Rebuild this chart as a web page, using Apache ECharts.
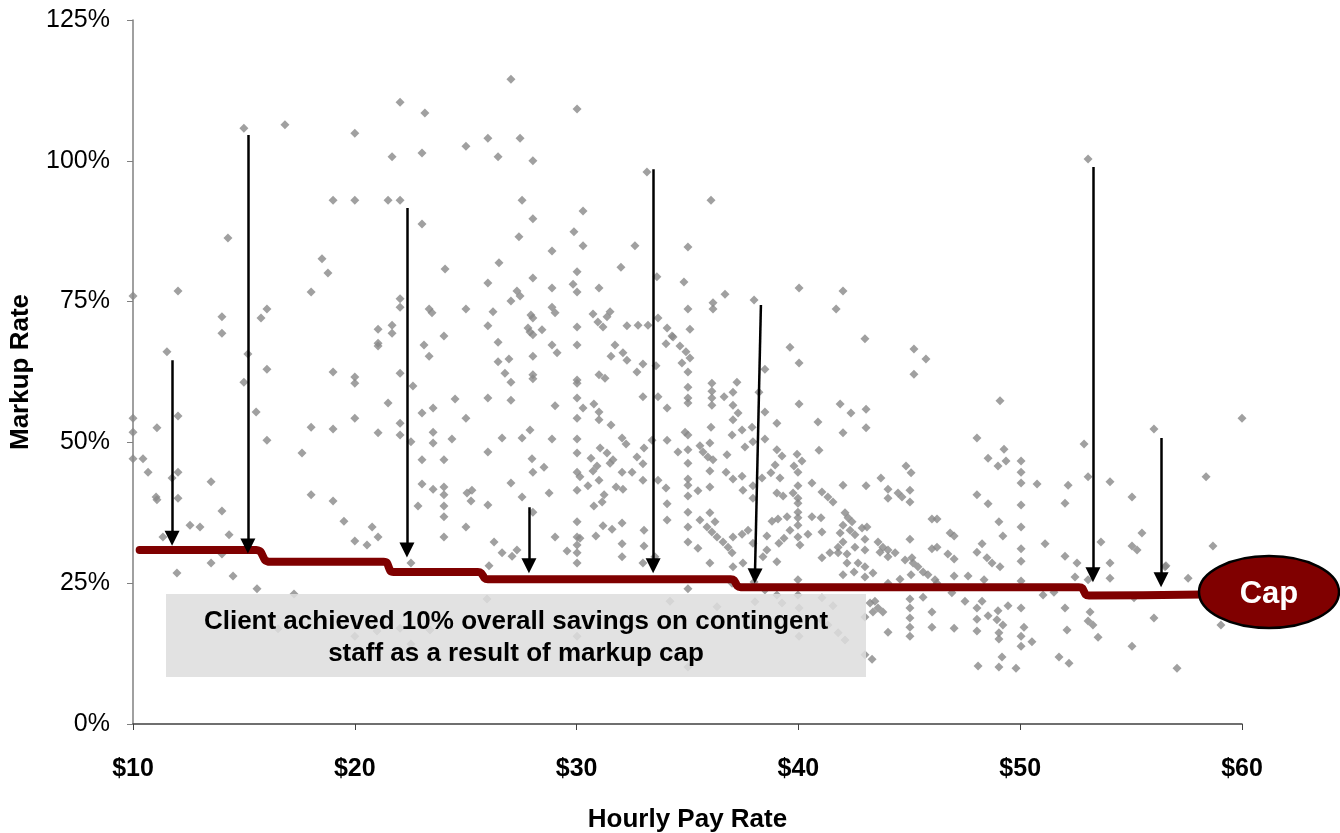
<!DOCTYPE html>
<html>
<head>
<meta charset="utf-8">
<title>Markup Rate vs Hourly Pay Rate</title>
<script src="https://cdn.jsdelivr.net/npm/echarts@6/dist/echarts.min.js"></script>
<style>
  html, body { margin: 0; padding: 0; background: #ffffff; }
  #chart { width: 1340px; height: 833px; }
</style>
</head>
<body>
<div id="chart"></div>
<script>
// Each observation: [hourly pay rate ($), markup rate (%)]
const markupPoints = [
  [22.04,110.4],[15.0,105.8],[16.85,106.4],[20.0,104.9],[21.68,100.7],[19.02,93.0],[20.0,93.0],[21.5,93.0],[22.04,93.0],
  [14.28,86.3],[18.52,82.6],[18.79,80.1],[10.0,76.0],[12.03,76.9],[18.03,76.7],[14.01,72.3],[14.01,69.4],[15.77,72.1],
  [16.04,73.7],[22.04,75.5],[22.04,74.0],[21.05,70.1],[21.68,70.8],[21.68,69.4],[21.05,67.6],[21.05,67.1],[11.53,66.1],
  [15.18,65.7],[16.04,63.0],[19.02,62.5],[20.0,61.6],[20.0,60.5],[22.04,62.3],[15.0,60.7],

  [27.04,114.5],[30.02,109.2],[23.16,108.5],[26.0,104.0],[27.45,104.0],[25.01,102.6],[23.03,101.4],[26.46,100.7],
  [28.03,100.0],[33.17,98.0],[27.54,93.0],[28.03,89.7],[23.03,88.8],[27.4,86.5],[29.88,87.4],[30.29,91.1],[30.29,84.9],
  [28.89,84.0],[32.63,84.9],[26.5,81.9],[24.07,80.8],[32.0,81.1],[30.02,80.3],[33.62,79.4],[26.0,78.3],[28.03,79.2],
  [28.89,77.4],[29.84,78.1],[30.02,76.7],[31.01,77.4],[27.31,76.9],[27.45,76.0],[27.04,75.1],[23.35,73.7],[23.48,73.0],
  [25.01,73.7],[26.23,73.2],[28.89,74.0],[29.03,73.0],[27.94,72.6],[28.03,72.1],[30.74,72.8],[31.51,73.2],[31.37,72.3],
  [30.96,71.4],[31.19,70.5],[32.27,70.7],[32.77,70.8],[33.22,70.8],[33.67,72.1],[34.08,70.3],[34.3,68.9],[34.03,67.5],
  [26.0,70.7],[24.02,68.9],[26.46,67.8],[27.81,70.3],[27.9,69.6],[28.44,70.0],[28.03,69.1],[30.02,70.5],[23.12,67.3],
  [23.35,65.3],[28.89,67.3],[29.12,65.9],[30.02,67.3],[28.03,65.3],[26.46,64.3],[26.95,64.8],[26.77,62.3],[27.04,60.7],
  [28.03,62.0],[28.03,61.3],[30.02,61.1],[30.02,60.5],[31.01,62.0],[31.28,61.4],[31.73,67.3],[31.55,65.3],[32.09,65.9],
  [32.27,64.6],[32.72,62.5],[32.99,63.9],[33.58,63.6],[22.62,60.0],[24.52,57.7],[26.0,57.9],[27.04,57.5],[30.02,57.9],
  [32.99,58.1],[33.67,58.1],

  [36.06,93.0],[35.02,84.7],[34.84,78.5],[36.15,74.8],[36.15,73.7],[36.69,76.3],[38.0,75.3],[35.02,73.7],[40.03,77.4],
  [42.01,76.9],[41.7,73.7],[35.11,70.1],[34.35,68.7],[34.66,67.1],[34.93,66.1],[35.11,65.0],[34.75,64.1],[35.02,62.5],
  [35.02,59.8],[35.02,57.9],[36.1,60.5],[36.1,59.1],[36.1,57.9],[36.65,58.1],[37.05,58.9],[37.23,60.7],[38.22,58.9],
  [38.49,63.0],[39.62,66.9],[40.03,64.1],[43.0,68.4],[45.21,66.6],[45.75,64.8],[45.21,62.1],[53.06,100.3],

  [10.0,54.3],[10.0,51.8],[11.08,52.6],[12.03,54.7],[10.0,47.1],[10.45,47.1],[10.68,44.7],[11.76,43.7],[12.03,44.7],
  [11.04,40.3],[11.08,39.8],[12.03,40.1],[13.52,43.0],[14.01,37.8],[12.57,35.3],[13.02,35.0],[14.33,33.6],[11.35,33.2],
  [11.98,26.8],[13.52,28.6],[14.01,30.2],[14.51,26.3],[15.59,24.0],[15.55,55.4],[16.04,50.4],[17.62,48.1],[18.03,52.7],
  [19.02,52.4],[20.0,54.3],[21.5,57.0],[22.04,53.4],[22.04,51.3],[21.05,51.7],[18.03,40.7],[19.02,39.6],[19.51,36.0],
  [20.0,32.5],[20.78,35.0],[21.05,33.2],[20.55,31.8],[17.26,23.1],[16.54,16.9],[20.0,15.6],[21.0,16.5],

  [22.53,50.1],[23.03,55.2],[23.53,56.1],[23.53,51.8],[23.53,49.9],[25.01,54.3],[24.38,50.6],[29.03,56.5],[30.02,54.3],
  [30.29,56.1],[30.78,56.8],[31.01,55.4],[31.01,54.0],[31.55,53.1],[34.08,56.1],[26.64,50.8],[27.54,50.8],[27.9,52.2],
  [28.89,50.6],[30.02,50.6],[26.0,48.3],[23.03,46.9],[24.02,46.9],[27.99,47.1],[28.53,45.6],[28.03,44.7],[30.02,48.1],
  [30.02,44.7],[30.15,43.9],[30.65,47.2],[31.06,49.0],[31.37,48.1],[31.64,46.9],[31.51,46.3],[30.92,45.8],[30.74,44.9],
  [32.05,50.8],[32.23,49.7],[33.04,49.0],[33.4,50.4],[34.08,50.4],[32.72,47.4],[32.99,46.2],[32.05,44.7],[32.5,44.7],
  [32.99,43.3],[33.67,43.3],[34.03,41.9],[23.03,42.6],[23.53,41.7],[24.02,42.1],[24.02,40.7],[24.02,38.7],[24.02,36.8],
  [24.02,33.2],[22.85,38.7],[25.06,41.0],[25.28,41.5],[25.24,39.6],[25.01,35.0],[26.0,38.9],[27.04,42.8],[27.54,40.3],
  [28.03,37.6],[28.76,41.0],[30.02,41.5],[30.51,42.3],[31.01,43.3],[31.24,40.7],[31.15,39.4],[30.78,38.7],[31.78,42.1],
  [32.09,41.7],[34.08,39.1],[34.08,36.2],[30.02,35.9],[30.02,33.2],[30.15,33.0],[30.02,31.8],[30.02,30.4],[30.02,28.6],
  [29.57,30.7],[29.03,33.2],[30.87,33.4],[31.19,35.2],[31.6,34.6],[32.05,35.7],[32.05,32.0],[32.05,29.7],[33.04,34.4],
  [33.04,31.6],[32.99,28.6],[33.53,29.7],[26.28,32.3],[26.64,30.4],[27.09,29.8],[27.31,30.9],[26.05,28.1],[22.53,28.6],
  [22.04,17.0],[23.39,16.7],[22.53,14.2],[25.96,22.2],[30.02,15.6],[34.21,21.8],

  [35.02,57.0],[36.1,56.6],[37.05,56.6],[37.28,55.2],[38.49,55.4],[39.03,53.4],[40.03,56.8],[40.88,53.6],[41.88,56.8],
  [42.37,55.2],[43.05,55.9],[42.01,51.7],[43.05,52.6],[40.93,48.6],[34.89,51.8],[35.02,51.3],[36.06,52.7],[37.05,54.0],
  [37.46,52.2],[37.91,52.7],[37.01,51.3],[36.01,49.9],[35.56,49.4],[35.7,48.3],[35.92,47.4],[36.15,46.9],[34.57,48.3],
  [35.02,48.7],[35.02,46.3],[36.78,47.8],[37.59,49.2],[37.95,50.1],[38.49,50.6],[39.03,48.7],[39.26,47.6],[39.94,47.9],
  [40.16,46.7],[39.8,45.8],[39.98,44.7],[38.95,46.0],[38.76,44.6],[39.17,43.7],[38.36,43.7],[37.46,44.0],[36.74,44.7],
  [37.05,43.5],[36.01,44.9],[35.02,43.5],[35.02,42.4],[35.47,41.4],[36.01,42.1],[35.02,40.5],[37.5,41.5],[37.95,42.3],
  [37.95,40.1],[39.03,41.0],[39.31,40.5],[39.76,41.0],[39.98,42.3],[39.98,40.1],[39.98,39.2],[40.61,42.8],[41.06,41.2],
  [41.33,40.3],[41.56,39.4],[42.01,42.4],[43.05,42.3],[43.72,43.7],[44.04,41.7],[44.04,40.1],[44.49,41.0],[44.67,40.3],
  [45.03,41.5],[45.03,39.4],[44.85,45.8],[45.08,44.6],[46.02,36.4],[35.02,37.6],[35.02,35.0],[35.02,32.3],[35.47,31.2],
  [36.01,37.5],[36.24,35.9],[35.56,36.2],[35.88,35.0],[36.1,34.1],[36.33,33.2],[36.6,32.3],[36.83,31.4],[37.01,30.4],
  [37.05,33.2],[37.46,33.7],[37.73,34.4],[37.5,28.6],[37.05,27.9],[36.01,28.6],[38.58,33.4],[38.81,36.0],[39.08,36.4],
  [39.49,36.8],[39.98,37.6],[39.98,36.6],[39.98,35.3],[39.98,33.2],[40.07,31.8],[39.62,34.4],[39.35,33.0],[39.12,32.1],
  [38.58,30.9],[39.03,28.8],[38.4,29.7],[37.95,32.1],[40.61,36.8],[41.02,36.6],[41.06,34.1],[40.43,33.7],[41.06,29.5],
  [41.42,30.4],[41.79,30.4],[41.88,33.9],[42.1,37.5],[42.24,36.6],[42.42,35.9],[42.01,35.3],[42.33,34.4],[42.55,33.6],
  [42.87,34.8],[43.09,35.0],[43.0,32.8],[42.01,32.3],[41.79,31.4],[42.55,31.4],[43.0,30.9],[42.19,30.2],[42.69,28.6],
  [43.0,27.9],[42.19,28.6],[42.51,27.0],[42.01,26.5],[43.0,26.1],[43.36,26.8],[43.59,32.3],[43.81,31.4],[44.04,30.9],
  [44.36,30.4],[43.68,30.5],[44.04,29.7],[45.03,32.8],[45.12,29.5],[44.81,29.1],[45.17,28.6],[45.39,27.9],[45.62,27.0],
  [45.84,26.5],[46.02,31.1],[46.16,25.6],[44.58,25.7],[44.04,25.0],[45.08,26.5],[35.02,24.0],[37.01,25.0],[38.0,25.2],
  [38.49,23.8],[39.03,22.9],[39.98,25.6],[39.98,22.9],[41.06,22.4],[40.03,20.6],[39.26,21.5],[38.04,21.7],[36.33,20.8],
  [41.56,21.0],[43.0,19.0],[43.23,21.5],[43.45,21.8],[43.59,20.6],[43.81,19.9],[43.36,19.9],[44.04,16.3],[45.03,22.2],
  [45.03,20.6],[45.03,18.8],[45.03,17.2],[45.03,15.6],[45.62,22.5],[46.02,19.9],[46.02,17.2],[41.79,16.2],[42.1,14.9],
  [40.03,15.6],[43.0,12.3],[43.32,11.5],[35.02,10.1],[41.33,17.6],[41.02,18.5],

  [49.09,57.4],[48.05,50.8],[49.27,48.8],[48.55,47.2],[49.36,46.7],[49.0,45.8],[50.04,46.7],[50.04,44.7],[50.04,42.8],
  [50.76,42.6],[52.16,42.4],[48.05,40.7],[48.55,39.1],[50.04,38.9],[52.02,39.2],[52.88,49.7],[53.06,43.9],[54.05,43.0],
  [55.04,40.3],[56.03,52.4],[58.38,43.9],[60.0,54.3],[46.25,36.4],[46.84,33.9],[47.02,33.4],[49.04,35.9],[49.22,33.4],
  [50.04,35.0],[51.12,32.0],[48.28,32.0],[48.05,30.5],[46.74,30.2],[47.02,29.3],[48.5,29.5],[48.73,28.6],[49.09,27.9],
  [50.04,31.1],[50.04,28.9],[52.02,29.8],[52.56,28.6],[53.64,32.3],[54.05,28.6],[54.05,25.9],[55.04,31.6],[55.27,30.9],
  [55.49,33.9],[56.57,28.1],[58.69,31.6],[57.57,25.9],[46.25,31.4],[46.25,25.0],[47.02,26.3],[47.65,26.3],[48.37,25.6],
  [50.04,25.4],[52.47,26.1],[53.06,25.6],[51.03,22.9],[51.52,23.4],[46.92,23.3],[47.51,21.8],[48.28,21.8],[48.05,20.6],
  [49.45,21.0],[50.04,20.6],[49.0,20.1],[48.55,19.2],[48.95,18.5],[49.22,17.6],[48.05,18.6],[48.05,16.5],[50.17,17.2],
  [50.04,15.6],[49.04,16.2],[49.04,15.1],[50.53,14.6],[50.04,13.8],[47.02,17.0],[52.02,20.6],[53.15,19.9],[53.06,18.3],
  [53.28,17.6],[52.11,16.7],[53.51,15.4],[55.04,13.8],[55.13,22.4],[56.03,18.8],[59.05,17.6],[49.18,11.9],[48.1,10.3],
  [49.04,10.1],[49.81,9.9],[51.75,11.9],[52.2,10.8],[57.07,9.9],[56.53,27.9]
];

// Markup cap schedule by pay rate band (stepped line)
const capPayRate = [10.3, 15.55, 15.75, 15.95, 16.15, 21.3, 21.45, 21.6, 21.75, 25.55, 25.7, 25.85, 26.0, 36.95, 37.1, 37.25, 37.4, 52.65, 52.8, 52.95, 53.1, 58.2];
const capMarkup  = [30.9, 30.9, 30.6, 29.1, 28.8, 28.8, 28.6, 27.2, 27.0, 27.0, 26.8, 25.9, 25.7, 25.7, 25.5, 24.5, 24.3, 24.3, 24.1, 23.0, 22.8, 23.0];

// Reduction arrows: from the original markup down to the cap
const arrowFrom = [[11.76, 64.6], [15.18, 104.6], [22.35, 91.6], [27.85, 38.5], [33.45, 98.5], [38.31, 74.4], [53.28, 98.9], [56.35, 50.8]];
const arrowTo   = [[11.76, 33.0], [15.18, 31.6], [22.35, 30.9], [27.85, 28.1], [33.45, 28.1], [38.04, 26.3], [53.28, 26.5], [56.35, 25.6]];

const noteLines = ['Client achieved 10% overall savings on contingent', 'staff as a result of markup cap'];
const capLabel = 'Cap';

const FONT = 'Arial, "Liberation Sans", Helvetica, sans-serif';

const chart = echarts.init(document.getElementById('chart'), null, { renderer: 'canvas' });

chart.setOption({
  animation: false,
  backgroundColor: '#ffffff',
  grid: { left: 133, right: 98, top: 20, bottom: 109, containLabel: false, outerBoundsMode: 'none' },
  xAxis: {
    type: 'value', min: 10, max: 60, interval: 10,
    name: 'Hourly Pay Rate', nameLocation: 'middle', nameGap: 83,
    nameTextStyle: { fontFamily: FONT, fontWeight: 'bold', fontSize: 26, color: '#000' },
    axisLine: { show: true, onZero: false, lineStyle: { color: '#404040', width: 1.5 } },
    axisTick: { show: true, inside: false, length: 6, lineStyle: { color: '#404040' } },
    axisLabel: { margin: 33, fontFamily: FONT, fontWeight: 'bold', fontSize: 25, color: '#000',
      formatter: v => '$' + v },
    splitLine: { show: false }
  },
  yAxis: {
    type: 'value', min: 0, max: 125, interval: 25,
    name: 'Markup Rate', nameLocation: 'middle', nameGap: 99,
    nameTextStyle: { fontFamily: FONT, fontWeight: 'bold', fontSize: 26, color: '#000' },
    axisLine: { show: true, lineStyle: { color: '#808080', width: 1.5 } },
    axisTick: { show: true, inside: false, length: 6, lineStyle: { color: '#808080' } },
    axisLabel: { margin: 23, fontFamily: FONT, fontSize: 25, color: '#000',
      formatter: v => v + '%' },
    splitLine: { show: false }
  },
  series: [
    {
      name: 'Markup',
      type: 'scatter',
      data: markupPoints,
      symbol: 'diamond',
      symbolSize: 9,
      itemStyle: { color: '#888888' },
      z: 2
    },
    {
      name: 'Cap',
      type: 'line',
      data: capPayRate.map((x, i) => [x, capMarkup[i]]),
      showSymbol: false,
      smooth: 0.2,
      lineStyle: { color: '#7f0000', width: 8, cap: 'round', join: 'round' },
      z: 3
    },
    {
      name: 'Reduction',
      type: 'lines',
      coordinateSystem: 'cartesian2d',
      data: arrowFrom.map((p, i) => ({ coords: [p, arrowTo[i]] })),
      symbol: ['none', 'triangle'],
      symbolSize: [16, 15],
      lineStyle: { color: '#000000', width: 2.5, opacity: 1 },
      itemStyle: { color: '#000000' },
      z: 4
    }
  ],
  graphic: [
    {
      type: 'rect', z: 10,
      shape: { x: 166, y: 594, width: 700, height: 83 },
      style: { fill: 'rgba(221,221,221,0.86)' }
    },
    {
      type: 'text', z: 11,
      x: 516, y: 638,
      style: {
        text: noteLines.join('\n'),
        font: 'bold 26px ' + FONT,
        fill: '#000000',
        align: 'center', verticalAlign: 'middle',
        lineHeight: 32
      }
    },
    {
      type: 'ellipse', z: 12,
      shape: { cx: 1269, cy: 592, rx: 70, ry: 36 },
      style: { fill: '#800000', stroke: '#000000', lineWidth: 2.5 }
    },
    {
      type: 'text', z: 13,
      x: 1269, y: 594,
      style: {
        text: capLabel,
        font: 'bold 31px ' + FONT,
        fill: '#ffffff',
        align: 'center', verticalAlign: 'middle'
      }
    }
  ]
});
</script>
</body>
</html>
